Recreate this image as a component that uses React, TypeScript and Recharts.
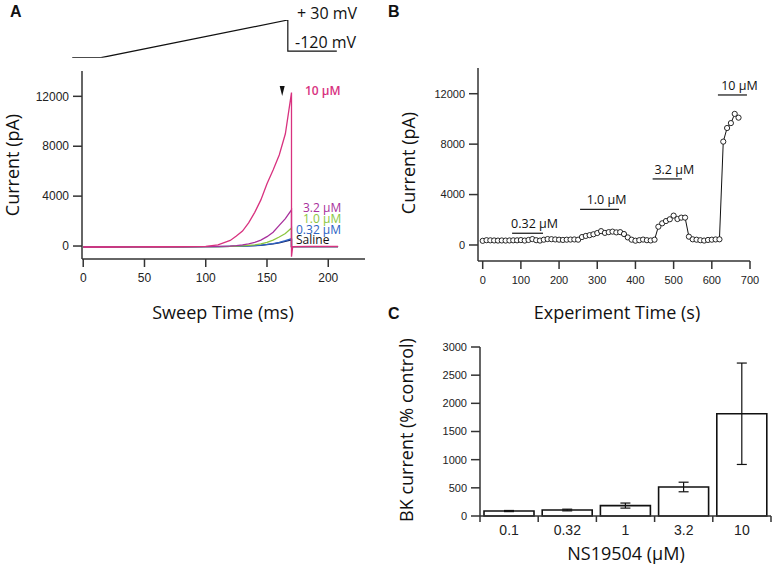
import React from 'react';
import {
  LineChart,
  Line,
  BarChart,
  Bar,
  ErrorBar,
  XAxis,
  YAxis,
  ReferenceLine,
  ReferenceDot,
} from 'recharts';

const W = 773;
const H = 565;
const titleFont = '"Open Sans", sans-serif';
const tickFont = '"Liberation Sans", Arial, sans-serif';
const axisColor = '#333';
const tickFill = '#222';

// A — voltage protocol (ms, mV)
const protocolT = [-9, 14.5, 167, 167, 207];
const protocolMv = [-152, -152, 30, -120, -120];

// A — sweep currents (pA)
const sweepTimes = [0, 20, 40, 60, 80, 100, 110, 120, 125, 130, 135, 140, 145, 150, 155, 160, 165, 170];
const sweep10 = [-80, -80, -70, -60, -50, -20, 100, 450, 800, 1200, 1850, 2700, 3700, 5000, 6100, 7300, 9000, 12300];
const sweep32 = [-80, -80, -70, -60, -60, -50, -30, 0, 40, 100, 180, 300, 470, 750, 1100, 1650, 2200, 2900];
const sweep1 = [-80, -80, -70, -60, -60, -50, -40, -30, -10, 10, 50, 100, 180, 300, 480, 720, 1000, 1450];
const sweep032 = [-80, -80, -70, -60, -60, -50, -40, -30, -20, 0, 20, 40, 80, 130, 200, 300, 430, 600];
const sweepSaline = [-80, -80, -70, -60, -60, -50, -40, -30, -20, -10, 10, 30, 60, 110, 170, 260, 370, 500];
const tailTimes = [170, 171, 185, 208];
const tail10 = [-850, -40, -30, -30];
const tailOther = [-40, -40, -40, -40];

// B — experiment time course
const expTimes = [
  0, 10, 20, 30, 40, 50, 60, 70, 80, 90, 100, 110, 120, 130, 140, 150, 160, 170, 180, 190,
  200, 210, 220, 230, 240, 250, 260, 270, 280, 290, 300, 310, 320, 330, 340, 350, 360, 370, 380, 390,
  400, 410, 420, 430, 440, 450, 460, 470, 480, 490, 500, 510, 520, 530, 540, 550, 560, 570, 580, 590,
  600, 610, 620, 630, 640, 650, 660, 670,
];
const expCurrent = [
  330, 380, 370, 360, 350, 360, 350, 360, 370, 370, 390, 350, 400, 470, 380, 350, 420, 470, 460, 440,
  420, 400, 420, 430, 440, 420, 630, 720, 780, 850, 950, 1100, 960, 1020, 1060, 1000, 1020, 870, 600, 420,
  340, 380, 430, 380, 360, 420, 1450, 1720, 1900, 2040, 2330, 2060, 2170, 2170, 660, 450, 420, 380, 350, 400,
  420, 440, 450, 8200, 9280, 9670, 10400, 10100,
];
const applyNames = ['0.32 µM', '1.0 µM', '3.2 µM', '10 µM'];
const applyFrom = [77, 255, 445, 616];
const applyTo = [158, 357, 522, 692];
const applyY = [930, 2830, 5240, 11900];

// C — concentration response
const concLabels = ['0.1', '0.32', '1', '3.2', '10'];
const concPos = [0.5, 1.5, 2.5, 3.5, 4.5];
const bkMean = [88, 106, 185, 515, 1815];
const bkErr = [10, 15, 45, 85, 900];

const zip = (ts: number[], vs: number[]) => ts.map((t, i) => ({ t, v: vs[i] }));

const sweepSeries = [
  { name: 'Saline', color: '#1b2a6b', data: [...zip(sweepTimes, sweepSaline), ...zip(tailTimes, tailOther)] },
  { name: '0.32', color: '#2c62c4', data: [...zip(sweepTimes, sweep032), ...zip(tailTimes, tailOther)] },
  { name: '1.0', color: '#8cc63f', data: [...zip(sweepTimes, sweep1), ...zip(tailTimes, tailOther)] },
  { name: '3.2', color: '#a8309c', data: [...zip(sweepTimes, sweep32), ...zip(tailTimes, tailOther)] },
  { name: '10', color: '#d8327f', data: [...zip(sweepTimes, sweep10), ...zip(tailTimes, tail10)] },
];
const protocolData = zip(protocolT, protocolMv);
const expData = zip(expTimes, expCurrent);
const bkData = concPos.map((x, i) => ({ x, v: bkMean[i], e: bkErr[i] }));

const axisLine = { stroke: axisColor, strokeWidth: 1.5 };
const tickStyle = { fontSize: 12, fill: tickFill, fontFamily: tickFont };
const layer: React.CSSProperties = { position: 'absolute', left: 0, top: 0 };

function Arrowhead(p: any) {
  const { cx, cy } = p;
  return <polygon points={`${cx - 2.5},${cy - 5} ${cx + 2.5},${cy - 5} ${cx},${cy + 5}`} fill="#111" />;
}

function ConcTick(props: any) {
  const { x, y, payload } = props;
  const v = payload.value;
  if (Number.isInteger(v)) {
    return <line x1={x} x2={x} y1={y} y2={y + 6} stroke={axisColor} strokeWidth={1.5} />;
  }
  return (
    <text x={x} y={y + 19} textAnchor="middle" fontSize={14} fontFamily={tickFont} fill={tickFill}>
      {concLabels[Math.floor(v)]}
    </text>
  );
}

function ApplyLabel(name: string) {
  return (p: any) => {
    const vb = p.viewBox || {};
    return (
      <text x={vb.x + (vb.width || 0) / 2 + 7} y={vb.y - 5} textAnchor="middle" fontSize={12.5} fontFamily={titleFont} fill="#111">
        {name}
      </text>
    );
  };
}

const titleStyle = { fontFamily: titleFont, fontSize: 18, fill: '#111' };
const doseLabel = { fontFamily: titleFont, fontSize: 12 };

export default function App() {
  return (
    <div style={{ position: 'absolute', left: 0, top: 0, width: W, height: H, background: '#fff', overflow: 'hidden' }}>
      {/* A: voltage protocol */}
      <div style={layer}>
        <LineChart width={W} height={120} margin={{ top: 20, right: 408, bottom: 62.3, left: 71 }}>
          <XAxis type="number" dataKey="t" domain={[-10, 230]} hide allowDataOverflow />
          <YAxis type="number" domain={[-152, 30]} hide allowDataOverflow />
          <Line data={protocolData} dataKey="v" stroke="#111" strokeWidth={1.2} dot={false} isAnimationActive={false} />
        </LineChart>
      </div>

      {/* A: sweep currents */}
      <div style={layer}>
        <LineChart width={W} height={H} margin={{ top: 71, right: 408, bottom: 266, left: 0 }}>
          <XAxis type="number" dataKey="t" domain={[-1, 230]} ticks={[0, 50, 100, 150, 200]} interval={0} allowDataOverflow
            height={40} tickSize={8} tickMargin={6} axisLine={axisLine} tickLine={axisLine} tick={tickStyle} />
          <YAxis type="number" domain={[-1040, 14030]} ticks={[0, 4000, 8000, 12000]} interval={0} allowDataOverflow
            width={82} tickSize={9} tickMargin={4} axisLine={axisLine} tickLine={axisLine} tick={tickStyle} />
          {sweepSeries.map((s) => (
            <Line key={s.name} data={s.data} dataKey="v" stroke={s.color} strokeWidth={1.3} dot={false} isAnimationActive={false} />
          ))}
          <ReferenceDot x={162.4} y={12430} r={0} shape={Arrowhead} />
        </LineChart>
      </div>

      {/* B: time course */}
      <div style={layer}>
        <LineChart width={W} height={H} margin={{ top: 68, right: 23, bottom: 264, left: 0 }}>
          <XAxis type="number" dataKey="t" domain={[-12.3, 700]} ticks={[0, 100, 200, 300, 400, 500, 600, 700]} interval={0}
            allowDataOverflow height={40} tickSize={8} tickMargin={7} axisLine={axisLine} tickLine={axisLine}
            tick={{ ...tickStyle, fontSize: 11 }} />
          <YAxis type="number" domain={[-1270, 14040]} ticks={[0, 4000, 8000, 12000]} interval={0} allowDataOverflow
            width={478} tickSize={9} tickMargin={4} axisLine={axisLine} tickLine={axisLine} tick={{ ...tickStyle, fontSize: 11 }} />
          {applyNames.map((n, i) => (
            <ReferenceLine key={n} segment={[{ x: applyFrom[i], y: applyY[i] }, { x: applyTo[i], y: applyY[i] }]}
              stroke="#222" strokeWidth={1.3} label={ApplyLabel(n)} />
          ))}
          <Line data={expData} dataKey="v" stroke="#111" strokeWidth={1}
            dot={{ r: 2.6, fill: '#fff', stroke: '#111', strokeWidth: 0.9 }} isAnimationActive={false} />
        </LineChart>
      </div>

      {/* C: bars */}
      <div style={layer}>
        <BarChart width={W} height={H} data={bkData} margin={{ top: 347, right: 2, bottom: 9, left: 0 }} barSize={50}>
          <XAxis type="number" dataKey="x" domain={[0, 5]} ticks={[0, 0.5, 1, 1.5, 2, 2.5, 3, 3.5, 4, 4.5, 5]} interval={0}
            height={40} tickSize={0} tickMargin={0} tickLine={false} axisLine={axisLine} tick={<ConcTick />} />
          <YAxis type="number" domain={[0, 3000]} ticks={[0, 500, 1000, 1500, 2000, 2500, 3000]} interval={0}
            width={480} tickSize={9} tickMargin={4} axisLine={axisLine} tickLine={axisLine} tick={{ ...tickStyle, fontSize: 11 }} />
          <Bar dataKey="v" fill="#fff" stroke="#111" strokeWidth={1.6} isAnimationActive={false}>
            <ErrorBar dataKey="e" width={5} stroke="#111" strokeWidth={1.2} direction="y" />
          </Bar>
        </BarChart>
      </div>

      {/* texts */}
      <svg width={W} height={H} style={{ ...layer, pointerEvents: 'none' }}>
        <text x={10} y={17} fontFamily={tickFont} fontWeight="bold" fontSize={16} fill="#111">A</text>
        <text x={388} y={17} fontFamily={tickFont} fontWeight="bold" fontSize={16} fill="#111">B</text>
        <text x={388} y={319} fontFamily={tickFont} fontWeight="bold" fontSize={16} fill="#111">C</text>

        <text x={297} y={19} fontFamily={titleFont} fontSize={16} fill="#111">+ 30 mV</text>
        <text x={295} y={48} fontFamily={titleFont} fontSize={16} fill="#111">-120 mV</text>

        <text x={305} y={94.5} {...doseLabel} fontWeight={600} fill="#d8327f">10 µM</text>
        <text x={303} y={211.5} {...doseLabel} fill="#a8309c">3.2 µM</text>
        <text x={303} y={223} {...doseLabel} fill="#8cc63f">1.0 µM</text>
        <text x={296} y={234} {...doseLabel} fill="#2c62c4">0.32 µM</text>
        <text x={296} y={243.5} {...doseLabel} fill="#111">Saline</text>

        <text x={223} y={319} textAnchor="middle" {...titleStyle}>Sweep Time (ms)</text>
        <text x={617} y={319} textAnchor="middle" {...titleStyle}>Experiment Time (s)</text>
        <text x={626} y={560} textAnchor="middle" {...titleStyle}>NS19504 (µM)</text>

        <text transform="translate(19,165) rotate(-90)" textAnchor="middle" {...titleStyle}>Current (pA)</text>
        <text transform="translate(415,163) rotate(-90)" textAnchor="middle" {...titleStyle}>Current (pA)</text>
        <text transform="translate(413,430) rotate(-90)" textAnchor="middle" {...titleStyle}>BK current (% control)</text>
      </svg>
    </div>
  );
}
